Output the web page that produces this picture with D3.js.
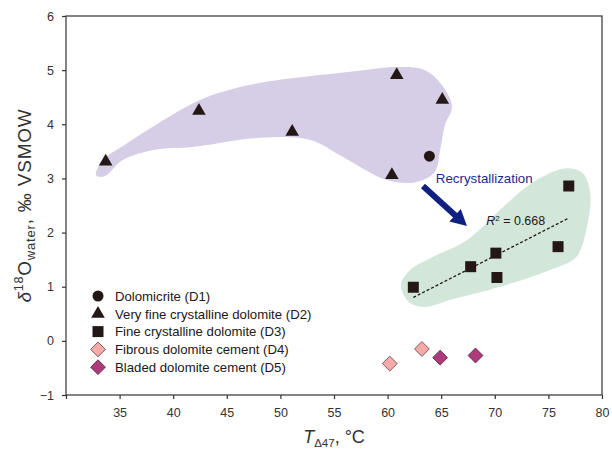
<!DOCTYPE html>
<html>
<head>
<meta charset="utf-8">
<script src="https://cdn.jsdelivr.net/npm/d3@7"></script>
<style>
  body { margin: 0; background: #fff; }
  text { font-family: "Liberation Sans", Arial, sans-serif; }
</style>
</head>
<body>
<div id="chart"></div>
<script>
(function(){

// data: [T, d18O]
var dolD1 = [[63.9, 3.41]];
var dolD2 = [[33.7, 3.31], [42.4, 4.25], [51.1, 3.86], [60.4, 3.06], [60.85, 4.91], [65.1, 4.45]];
var dolD3 = [[62.4, 0.99], [67.75, 1.37], [70.1, 1.62], [70.2, 1.17], [75.9, 1.74], [76.9, 2.86]];
var dolD4 = [[60.2, -0.42], [63.2, -0.15]];
var dolD5 = [[64.9, -0.31], [68.2, -0.27]];

// shaded fields (outline points in data units)
var purpleZone = [[32.8, 3.06], [33.45, 3.34], [35.5, 3.62], [38.8, 4.04], [42.5, 4.45], [47.2, 4.73],
                  [56.5, 4.97], [60.9, 5.06], [63.5, 5.0], [65.2, 4.69], [66.0, 4.32], [65.35, 3.99],
                  [64.9, 3.52], [64.4, 3.12], [62.6, 2.93], [59.9, 2.97], [55.8, 3.40], [52.8, 3.71],
                  [48.1, 3.75], [41.85, 3.58], [38.3, 3.53], [35.3, 3.34], [33.6, 3.04]];
var greenZone = [[61.3, 0.94], [62.1, 0.70], [63.5, 0.625], [65.8, 0.755], [70.5, 1.0], [75.15, 1.31],
                 [77.6, 1.55], [78.6, 2.11], [78.9, 2.73], [78.2, 3.1], [76.7, 3.19], [75.15, 3.1],
                 [73.0, 2.85], [70.5, 2.42], [67.4, 1.86], [64.2, 1.55], [62.1, 1.31], [61.3, 1.09]];

var xTicks = [30, 35, 40, 45, 50, 55, 60, 65, 70, 75, 80];
var yTicks = [-1, 0, 1, 2, 3, 4, 5, 6];
var legendLabels = ["Dolomicrite (D1)", "Very fine crystalline dolomite (D2)", "Fine crystalline dolomite (D3)",
                    "Fibrous dolomite cement (D4)", "Bladed dolomite cement (D5)"];
var r2Label = "0.668";

var margin = {top: 16, right: 10, bottom: 66, left: 66},
    width = 612 - margin.left - margin.right,
    height = 461 - margin.top - margin.bottom;

var svg = d3.select("#chart")
  .append("svg")
    .attr("width", 612)
    .attr("height", 461)
  .append("g")
    .attr("transform", "translate(" + margin.left + "," + margin.top + ")");

var x = d3.scaleLinear().domain([30, 80]).range([0, width]);
var y = d3.scaleLinear().domain([-1, 6]).range([height, 0]);

var ink = "#231815";

// fields
var zone = d3.line()
  .x(function(d) { return x(d[0]); })
  .y(function(d) { return y(d[1]); })
  .curve(d3.curveCatmullRomClosed.alpha(0.5));

svg.append("path").attr("d", zone(purpleZone)).attr("fill", "#d5cee6");
svg.append("path").attr("d", zone(greenZone)).attr("fill", "#d3e6da");

// axes + frame
var xAxis = svg.append("g")
  .attr("transform", "translate(0," + height + ")")
  .call(d3.axisBottom(x).tickValues(xTicks).tickSize(4).tickPadding(9)
          .tickFormat(function(d) { return d === 30 ? "" : d; }));
var yAxis = svg.append("g")
  .call(d3.axisLeft(y).tickValues(yTicks).tickSize(4).tickPadding(8)
          .tickFormat(d3.format("d")));

[xAxis, yAxis].forEach(function(g) {
  g.select(".domain").remove();
  g.selectAll("line").attr("stroke", "#333").attr("stroke-width", 1.2);
  g.selectAll("text").attr("font-size", 12.5).attr("fill", "#333")
    .style("font-family", "'Liberation Sans', Arial, sans-serif");
});

svg.append("rect")
  .attr("width", width).attr("height", height)
  .attr("fill", "none").attr("stroke", "#333").attr("stroke-width", 1.2);

// regression through D3
var mx = d3.mean(dolD3, function(d) { return d[0]; }),
    my = d3.mean(dolD3, function(d) { return d[1]; });
var slope = d3.sum(dolD3, function(d) { return (d[0] - mx) * (d[1] - my); }) /
            d3.sum(dolD3, function(d) { return (d[0] - mx) * (d[0] - mx); });
var ends = d3.extent(dolD3, function(d) { return d[0]; });
svg.append("line")
  .attr("x1", x(ends[0])).attr("y1", y(my + slope * (ends[0] - mx)))
  .attr("x2", x(ends[1])).attr("y2", y(my + slope * (ends[1] - mx)))
  .attr("stroke", ink).attr("stroke-width", 1.3).attr("stroke-dasharray", "3,2");

svg.append("text")
  .attr("x", x(69.2)).attr("y", y(2.14))
  .attr("font-size", 12.5).attr("fill", ink)
  .call(function(t) {
    t.append("tspan").style("font-style", "italic").text("R");
    t.append("tspan").attr("font-size", 8).attr("dy", -4).text("2");
    t.append("tspan").attr("dy", 4).text(" = " + r2Label);
  });

// recrystallization arrow
var tail = [x(63.3), y(2.86)], tip = [x(67.4), y(2.12)];
var dx = tip[0] - tail[0], dy = tip[1] - tail[1], len = Math.sqrt(dx * dx + dy * dy);
var ux = dx / len, uy = dy / len, px = -uy, py = ux;
var hw = 3, hh = 8.5, hl = 16;
var bx = tip[0] - ux * hl, by = tip[1] - uy * hl;
svg.append("path")
  .attr("d", "M" + [tail[0] + px * hw, tail[1] + py * hw] +
             "L" + [bx + px * hw, by + py * hw] +
             "L" + [bx + px * hh, by + py * hh] +
             "L" + tip +
             "L" + [bx - px * hh, by - py * hh] +
             "L" + [bx - px * hw, by - py * hw] +
             "L" + [tail[0] - px * hw, tail[1] - py * hw] + "Z")
  .attr("fill", "#0f2083");

svg.append("text")
  .attr("x", x(64.5)).attr("y", y(2.92))
  .attr("font-size", 13.3).attr("fill", "#1b2a90")
  .text("Recrystallization");

// points
var groups = [
  {data: dolD1, type: d3.symbolCircle, size: 95, fill: ink, stroke: "none", rot: 0},
  {data: dolD2, type: d3.symbolTriangle, size: 80, fill: ink, stroke: "none", rot: 0},
  {data: dolD3, type: d3.symbolSquare, size: 121, fill: ink, stroke: "none", rot: 0},
  {data: dolD4, type: d3.symbolSquare, size: 110, fill: "#f7aaa8", stroke: "#5b4a4c", rot: 45},
  {data: dolD5, type: d3.symbolSquare, size: 110, fill: "#ae3a7c", stroke: "#4e2a3c", rot: 45}
];

groups.forEach(function(g) {
  svg.append("g").selectAll("path")
    .data(g.data).enter()
    .append("path")
      .attr("d", d3.symbol().type(g.type).size(g.size))
      .attr("transform", function(d) {
        return "translate(" + x(d[0]) + "," + y(d[1]) + ") rotate(" + g.rot + ")";
      })
      .attr("fill", g.fill)
      .attr("stroke", g.stroke).attr("stroke-width", 0.8);
});

// legend
var legend = svg.append("g").attr("transform", "translate(32,280)");
groups.forEach(function(g, i) {
  var row = legend.append("g").attr("transform", "translate(0," + (i * 17.8) + ")");
  row.append("path")
    .attr("d", d3.symbol().type(g.type).size(g.size))
    .attr("transform", "rotate(" + g.rot + ")")
    .attr("fill", g.fill)
    .attr("stroke", g.stroke).attr("stroke-width", 0.8);
  row.append("text")
    .attr("x", 17).attr("y", 4.7)
    .attr("font-size", 13.2).attr("fill", ink)
    .text(legendLabels[i]);
});

// axis titles
svg.append("text")
  .attr("x", width / 2).attr("y", height + 48)
  .attr("text-anchor", "middle").attr("font-size", 18).attr("fill", "#333")
  .call(function(t) {
    t.append("tspan").style("font-style", "italic").text("T");
    t.append("tspan").attr("font-size", 11.5).attr("dy", 4).text("Δ47");
    t.append("tspan").attr("dy", -4).text(", °C");
  });

svg.append("text")
  .attr("transform", "translate(-35," + (height / 2) + ") rotate(-90)")
  .attr("text-anchor", "middle").attr("font-size", 19).attr("fill", "#333")
  .style("letter-spacing", "0.8px")
  .call(function(t) {
    t.append("tspan").style("font-style", "italic").text("δ");
    t.append("tspan").attr("font-size", 12.5).attr("dy", -8).text("18");
    t.append("tspan").attr("dy", 8).text("O");
    t.append("tspan").attr("font-size", 13).attr("dy", 4).text("water");
    t.append("tspan").attr("dy", -4).text(", ‰ VSMOW");
  });

})()
</script>
</body>
</html>
